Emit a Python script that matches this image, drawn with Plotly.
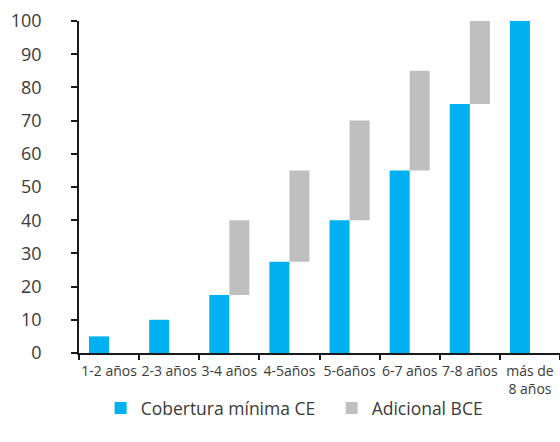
import plotly.graph_objects as go

# Coverage schedule by age bucket of the exposure
categories = ["1-2 años", "2-3 años", "3-4 años", "4-5años", "5-6años",
              "6-7 años", "7-8 años", "más de<br>8 años"]
cobertura_ce = [5, 10, 17.5, 27.5, 40, 55, 75, 100]
adicional_bce = [None, None, 22.5, 27.5, 30, 30, 25, None]
y_ticks = [0, 10, 20, 30, 40, 50, 60, 70, 80, 90, 100]

BLUE = "#00B0F0"
GREY = "#BFBFBF"
TEXT = "#3a3a3a"
FONT = "Open Sans"

fig = go.Figure()
fig.add_trace(go.Bar(
    x=categories, y=cobertura_ce, name="Cobertura mínima CE",
    marker=dict(color=BLUE, line=dict(width=0)),
))
# Additional ECB add-on stacked on top of the minimum, shown in its own slot
fig.add_trace(go.Bar(
    x=categories, y=adicional_bce, base=cobertura_ce, name="Adicional BCE",
    marker=dict(color=GREY, line=dict(width=0)),
))

fig.update_layout(
    width=560, height=442,
    margin=dict(l=79, r=0, t=21, b=89, autoexpand=False),
    paper_bgcolor="white", plot_bgcolor="white",
    barmode="group", bargap=1/3, bargroupgap=0,
    font=dict(family=FONT, color=TEXT),
    showlegend=True,
    legend=dict(
        orientation="h", x=0.045, xanchor="left", y=-0.166, yanchor="middle",
        font=dict(size=17.5, color=TEXT, family=FONT),
        entrywidth=186, traceorder="normal",
        bgcolor="rgba(0,0,0,0)",
    ),
    xaxis=dict(
        type="category", range=[-0.5, 7.5],
        showline=True, linecolor="#1a1a1a", linewidth=1.5,
        ticks="outside", tickson="boundaries", ticklen=5,
        tickcolor="#1a1a1a", tickwidth=1.5, tickangle=0, automargin=False,
        tickfont=dict(size=14, color=TEXT, family=FONT),
        ticklabelstandoff=4,
        showgrid=False, zeroline=False, fixedrange=True,
    ),
    yaxis=dict(
        range=[0, 100], tickvals=y_ticks, automargin=False,
        showline=True, linecolor="#1a1a1a", linewidth=1.5,
        ticks="outside", ticklen=6, tickcolor="#1a1a1a", tickwidth=1.5,
        tickfont=dict(size=18, color=TEXT, family=FONT),
        ticklabelstandoff=26,
        showgrid=False, zeroline=False, fixedrange=True,
    ),
)

fig.write_html("out.html")
